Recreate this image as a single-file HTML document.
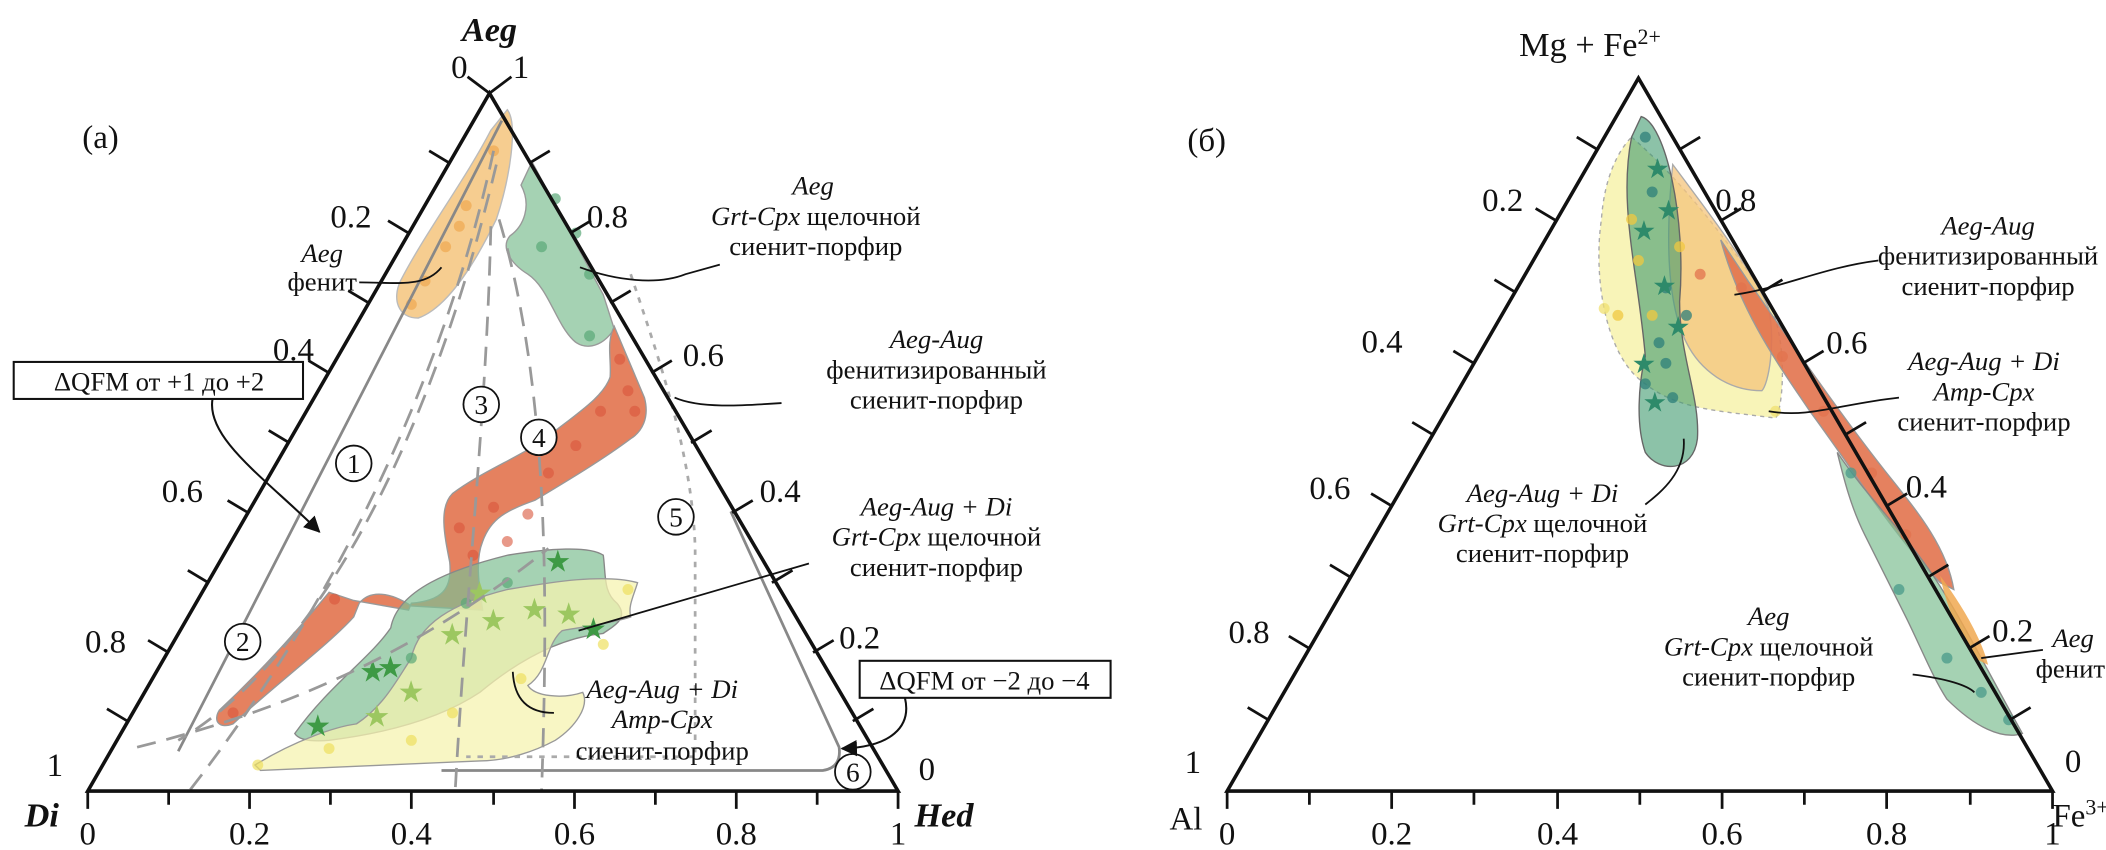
<!DOCTYPE html>
<html><head><meta charset="utf-8"><style>
html,body{margin:0;padding:0;background:#fff;overflow:hidden}
svg{display:block}
text{font-family:"Liberation Serif",serif;fill:#111}
.t{font-size:24px}
.l{font-size:19.5px}
.i{font-style:italic}
</style></head><body>
<svg width="2106" height="850" viewBox="0 0 1536 620" preserveAspectRatio="none" xmlns="http://www.w3.org/2000/svg">
<defs>
<marker id="ah" markerWidth="12" markerHeight="12" refX="11" refY="6" orient="auto" markerUnits="userSpaceOnUse"><path d="M0,0 L12,6 L0,12 z" fill="#111"/></marker>
</defs>

<!-- ===== LEFT PANEL ===== -->
<path d="M370,80 C378,90 372,130 362,160 C345,195 325,225 305,232 C290,232 286,218 292,205 C310,170 340,130 358,95 Z" fill="#f4c47c" fill-opacity="0.85" stroke="#bbb" stroke-width="1"/>
<path d="M388,118 L440,215 L448,240 C438,255 425,255 418,248 C405,235 400,210 385,200 C372,192 365,180 372,172 C382,165 388,150 380,135 Z" fill="#8fc7a0" fill-opacity="0.8" stroke="#999" stroke-width="1"/>
<path d="M448,238 L470,290 C474,305 468,315 460,320 C440,335 415,350 390,365 C370,372 358,378 352,395 C346,410 350,430 352,445 L300,442 C285,432 270,430 262,440 L258,450 C240,470 200,500 170,528 C160,532 155,526 160,518 C190,490 215,462 240,432 L258,438 L298,445 L300,440 C322,438 330,430 328,410 C324,390 320,370 330,360 C350,345 375,335 395,322 C420,302 440,290 445,275 C446,262 442,250 448,238 Z" fill="#e2734e" fill-opacity="0.9" stroke="#999" stroke-width="1"/>
<path d="M215,535 C240,500 270,480 285,458 C290,430 330,415 370,405 C400,400 430,398 440,405 C442,420 440,432 450,440 C460,452 445,458 440,462 C410,465 380,480 350,505 C320,525 280,535 240,540 C228,541 218,540 215,535 Z" fill="#7fbf93" fill-opacity="0.7" stroke="#888" stroke-width="1"/>
<path d="M186,558 C215,540 245,530 260,528 C280,515 290,495 300,480 C305,455 330,440 370,430 C400,425 440,418 465,425 C462,435 458,442 460,450 C445,455 420,458 410,460 C398,470 400,490 385,500 C390,508 410,510 425,505 C430,515 420,530 405,540 C390,548 370,555 350,555 C300,557 240,560 190,562 Z" fill="#f6f3b0" fill-opacity="0.75" stroke="#999" stroke-width="1"/>
<g fill="#d8553a" fill-opacity="0.6">
<circle cx="452" cy="262" r="4"/><circle cx="458" cy="285" r="4"/><circle cx="463" cy="300" r="4"/><circle cx="438" cy="300" r="4"/><circle cx="420" cy="325" r="4"/><circle cx="400" cy="345" r="4"/><circle cx="385" cy="375" r="4"/><circle cx="360" cy="370" r="4"/><circle cx="335" cy="385" r="4"/><circle cx="345" cy="405" r="4"/><circle cx="244" cy="437" r="4"/><circle cx="170" cy="520" r="4"/><circle cx="370" cy="395" r="4"/></g>
<g fill="#f0a850" fill-opacity="0.7"><circle cx="340" cy="150" r="4"/><circle cx="325" cy="180" r="4"/><circle cx="310" cy="205" r="4"/><circle cx="360" cy="110" r="4"/><circle cx="300" cy="222" r="4"/><circle cx="335" cy="165" r="4"/></g>
<g fill="#5aa878" fill-opacity="0.7"><circle cx="405" cy="145" r="4"/><circle cx="420" cy="170" r="4"/><circle cx="430" cy="200" r="4"/><circle cx="395" cy="180" r="4"/><circle cx="340" cy="440" r="4"/><circle cx="370" cy="425" r="4"/><circle cx="300" cy="480" r="4"/><circle cx="430" cy="245" r="4"/></g>
<g font-size="22" style="font-family:'DejaVu Sans'">
<text x="397" y="417" style="fill:#3e9a45">★</text><text x="262" y="497" style="fill:#3e9a45">★</text><text x="275" y="494" style="fill:#3e9a45">★</text><text x="222" y="537" style="fill:#3e9a45">★</text><text x="423" y="466" style="fill:#3e9a45">★</text><text x="290" y="512" style="fill:#9cc760">★</text><text x="320" y="470" style="fill:#9cc760">★</text><text x="350" y="460" style="fill:#9cc760">★</text><text x="380" y="452" style="fill:#9cc760">★</text><text x="405" y="455" style="fill:#9cc760">★</text><text x="265" y="530" style="fill:#9cc760">★</text><text x="340" y="440" style="fill:#9cc760">★</text></g>
<g fill="#eee060" fill-opacity="0.7"><circle cx="188" cy="558" r="4"/><circle cx="240" cy="546" r="4"/><circle cx="300" cy="540" r="4"/><circle cx="330" cy="520" r="4"/><circle cx="380" cy="495" r="4"/><circle cx="440" cy="470" r="4"/><circle cx="458" cy="430" r="4"/></g>

<g fill="none" stroke="#888" stroke-width="2">
<path d="M366,88 L130,548"/>
<path d="M533,373 L612,545 Q614,560 600,562 L322,562"/>
</g>
<g fill="none" stroke="#999" stroke-width="2" stroke-dasharray="14,8">
<path d="M360,110 C330,250 260,420 138,577"/>
<path d="M362,120 C300,380 200,500 130,540"/>
<path d="M358,165 C355,300 340,430 332,577"/>
<path d="M364,160 C400,280 400,430 395,577"/>
<path d="M100,545 C200,520 300,480 400,400"/>
</g>
<path d="M460,200 C480,260 505,330 507,400 L507,552 L340,552" fill="none" stroke="#aaa" stroke-width="2" stroke-dasharray="4,5"/>

<path d="M357,68 L64,577 L655,577 Z" fill="none" stroke="#111" stroke-width="2.6"/>
<g stroke="#111" stroke-width="2">
<line x1="357" y1="68" x2="341" y2="56"/><line x1="357" y1="68" x2="373" y2="56"/>
<line x1="328" y1="119" x2="313" y2="110"/><line x1="298" y1="170" x2="283" y2="161"/><line x1="269" y1="221" x2="254" y2="212"/><line x1="240" y1="272" x2="225" y2="263"/><line x1="211" y1="323" x2="196" y2="314"/><line x1="181" y1="374" x2="166" y2="365"/><line x1="152" y1="425" x2="137" y2="416"/><line x1="123" y1="476" x2="108" y2="467"/><line x1="93" y1="526" x2="78" y2="517"/>
<line x1="386" y1="119" x2="401" y2="110"/><line x1="416" y1="170" x2="431" y2="161"/><line x1="445" y1="221" x2="460" y2="212"/><line x1="475" y1="272" x2="490" y2="263"/><line x1="504" y1="323" x2="519" y2="314"/><line x1="534" y1="374" x2="549" y2="365"/><line x1="563" y1="425" x2="578" y2="416"/><line x1="593" y1="476" x2="608" y2="467"/><line x1="622" y1="526" x2="637" y2="517"/>
<line x1="64" y1="577" x2="64" y2="590"/><line x1="123" y1="577" x2="123" y2="587"/><line x1="182" y1="577" x2="182" y2="590"/><line x1="241" y1="577" x2="241" y2="587"/><line x1="300" y1="577" x2="300" y2="590"/><line x1="360" y1="577" x2="360" y2="587"/><line x1="419" y1="577" x2="419" y2="590"/><line x1="478" y1="577" x2="478" y2="587"/><line x1="537" y1="577" x2="537" y2="590"/><line x1="596" y1="577" x2="596" y2="587"/><line x1="655" y1="577" x2="655" y2="590"/>
</g>
<text x="357" y="30" class="i" font-weight="bold" text-anchor="middle" font-size="25">Aeg</text>
<text x="329" y="57" class="t">0</text><text x="374" y="57" class="t">1</text>
<text x="60" y="108" class="t">(а)</text>
<text x="241" y="166" class="t">0.2</text><text x="199" y="263" class="t">0.4</text><text x="118" y="366" class="t">0.6</text><text x="62" y="476" class="t">0.8</text><text x="34" y="566" class="t">1</text>
<text x="18" y="603" class="i" font-weight="bold" font-size="25">Di</text>
<text x="667" y="603" class="i" font-weight="bold" font-size="25">Hed</text>
<g class="t" text-anchor="middle"><text x="64" y="616">0</text><text x="182" y="616">0.2</text><text x="300" y="616">0.4</text><text x="419" y="616">0.6</text><text x="537" y="616">0.8</text><text x="655" y="616">1</text></g>
<text x="428" y="166" class="t">0.8</text><text x="498" y="267" class="t">0.6</text><text x="554" y="366" class="t">0.4</text><text x="612" y="473" class="t">0.2</text><text x="670" y="569" class="t">0</text>

<g fill="#fff" stroke="#111" stroke-width="1.3">
<circle cx="258" cy="338" r="13"/><circle cx="177" cy="468" r="13"/><circle cx="351" cy="295" r="13"/><circle cx="393" cy="319" r="13"/><circle cx="493" cy="377" r="13"/><circle cx="622" cy="563" r="13"/></g>
<g font-size="20" text-anchor="middle"><text x="258" y="345">1</text><text x="177" y="475">2</text><text x="351" y="302">3</text><text x="393" y="326">4</text><text x="493" y="384">5</text><text x="622" y="570">6</text></g>

<rect x="10" y="264" width="211" height="27" fill="#fff" stroke="#111" stroke-width="1.5"/>
<text x="116" y="285" class="l" text-anchor="middle">ΔQFM от +1 до +2</text>
<path d="M155,291 C150,320 195,350 233,388" fill="none" stroke="#111" stroke-width="1.5" marker-end="url(#ah)"/>
<rect x="627" y="482" width="183" height="27" fill="#fff" stroke="#111" stroke-width="1.5"/>
<text x="718" y="503" class="l" text-anchor="middle">ΔQFM от −2 до −4</text>
<path d="M660,509 C665,530 650,545 614,546" fill="none" stroke="#111" stroke-width="1.5" marker-end="url(#ah)"/>

<g fill="none" stroke="#111" stroke-width="1.3">
<path d="M322,195 C310,210 290,206 262,206"/>
<path d="M423,195 C450,205 480,208 500,200 L525,193"/>
<path d="M492,290 C510,298 540,296 570,294"/>
<path d="M422,460 L590,411"/>
<path d="M374,490 C375,510 385,520 404,520"/>
</g>
<g class="l" text-anchor="middle">
<text x="235" y="191" class="i">Aeg</text><text x="235" y="212">фенит</text>
<text x="593" y="142" class="i">Aeg</text><text x="595" y="164"><tspan class="i">Grt-Cpx</tspan> щелочной</text><text x="595" y="186">сиенит-порфир</text>
<text x="683" y="254" class="i">Aeg-Aug</text><text x="683" y="276">фенитизированный</text><text x="683" y="298">сиенит-порфир</text>
<text x="683" y="376" class="i">Aeg-Aug + Di</text><text x="683" y="398"><tspan class="i">Grt-Cpx</tspan> щелочной</text><text x="683" y="420">сиенит-порфир</text>
<text x="483" y="509" class="i">Aeg-Aug + Di</text><text x="483" y="531" class="i">Amp-Cpx</text><text x="483" y="554">сиенит-порфир</text>
</g>

<!-- ===== RIGHT PANEL ===== -->
<path d="M1190,100 C1225,130 1260,175 1290,220 C1305,250 1300,300 1295,305 C1260,300 1225,300 1200,280 C1170,260 1162,200 1168,160 C1170,130 1180,110 1190,100 Z" fill="#f6f0a0" fill-opacity="0.75" stroke="#aaa" stroke-width="1" stroke-dasharray="3,3"/>
<path d="M1220,120 C1250,160 1280,200 1290,225 C1295,250 1290,280 1285,285 C1260,285 1240,270 1230,250 C1215,220 1215,170 1220,120 Z" fill="#f4c47c" fill-opacity="0.75" stroke="#aaa" stroke-width="1"/>
<path d="M1197,85 C1215,90 1230,160 1225,220 C1225,260 1240,290 1238,320 C1235,345 1210,345 1200,330 C1193,310 1195,280 1200,260 C1195,200 1180,150 1190,100 Z" fill="#3f9a6e" fill-opacity="0.6" stroke="#666" stroke-width="1"/>
<path d="M1255,175 L1275,205 C1300,240 1340,300 1380,350 C1400,375 1420,400 1425,430 L1415,425 C1380,390 1350,340 1320,300 C1300,270 1270,230 1255,175 Z" fill="#e2734e" fill-opacity="0.9" stroke="#999" stroke-width="1"/>
<path d="M1340,330 C1360,360 1390,390 1410,420 C1430,450 1450,490 1475,535 C1460,540 1440,530 1420,510 C1410,495 1400,470 1390,450 C1380,430 1370,410 1360,390 C1350,370 1345,350 1340,330 Z" fill="#7fbf93" fill-opacity="0.7" stroke="#888" stroke-width="1"/>
<path d="M1415,420 C1430,440 1445,465 1450,485 L1440,480 C1430,465 1420,445 1415,420 Z" fill="#f0a850" fill-opacity="0.85"/>
<g fill-opacity="0.75">
<circle cx="1200" cy="100" r="4" fill="#2e7f7a"/><circle cx="1205" cy="140" r="4" fill="#2e7f7a"/><circle cx="1195" cy="190" r="4" fill="#f0c840"/><circle cx="1215" cy="210" r="4" fill="#2e7f7a"/><circle cx="1180" cy="230" r="4" fill="#f0c840"/><circle cx="1210" cy="250" r="4" fill="#2e7f7a"/><circle cx="1200" cy="280" r="4" fill="#2e7f7a"/><circle cx="1225" cy="180" r="4" fill="#f0c840"/><circle cx="1170" cy="225" r="4" fill="#f0e070"/><circle cx="1240" cy="200" r="4" fill="#e2734e"/><circle cx="1270" cy="210" r="4" fill="#e2734e"/><circle cx="1300" cy="260" r="4" fill="#e2734e"/><circle cx="1330" cy="300" r="4" fill="#e2734e"/><circle cx="1365" cy="345" r="4" fill="#e2734e"/><circle cx="1390" cy="390" r="4" fill="#e2734e"/><circle cx="1295" cy="300" r="4" fill="#f0e070"/><circle cx="1385" cy="430" r="4" fill="#4a9a8a"/><circle cx="1420" cy="480" r="4" fill="#4a9a8a"/><circle cx="1445" cy="505" r="4" fill="#4a9a8a"/><circle cx="1465" cy="525" r="4" fill="#4a9a8a"/><circle cx="1350" cy="345" r="4" fill="#4a9a8a"/><circle cx="1230" cy="230" r="4" fill="#2e7f7a"/><circle cx="1190" cy="160" r="4" fill="#f0c840"/><circle cx="1215" cy="265" r="4" fill="#2e7f7a"/><circle cx="1205" cy="230" r="4" fill="#f0c840"/><circle cx="1220" cy="290" r="4" fill="#2e7f7a"/></g>
<g font-size="20" style="font-family:'DejaVu Sans'">
<text x="1200" y="130" style="fill:#2e8a6a">★</text><text x="1190" y="175" style="fill:#2e8a6a">★</text><text x="1205" y="215" style="fill:#2e8a6a">★</text><text x="1215" y="245" style="fill:#2e8a6a">★</text><text x="1190" y="272" style="fill:#2e8a6a">★</text><text x="1198" y="300" style="fill:#2e8a6a">★</text><text x="1208" y="160" style="fill:#2e8a6a">★</text></g>

<path d="M1195,57 L895,577 L1497,577 Z" fill="none" stroke="#111" stroke-width="2.6"/>
<g stroke="#111" stroke-width="2">
<line x1="1165" y1="109" x2="1150" y2="100"/><line x1="1135" y1="161" x2="1120" y2="152"/><line x1="1105" y1="213" x2="1090" y2="204"/><line x1="1075" y1="265" x2="1060" y2="256"/><line x1="1045" y1="317" x2="1030" y2="308"/><line x1="1015" y1="369" x2="1000" y2="360"/><line x1="985" y1="421" x2="970" y2="412"/><line x1="955" y1="473" x2="940" y2="464"/><line x1="925" y1="525" x2="910" y2="516"/>
<line x1="1225" y1="109" x2="1240" y2="100"/><line x1="1255" y1="161" x2="1270" y2="152"/><line x1="1285" y1="213" x2="1300" y2="204"/><line x1="1315" y1="265" x2="1330" y2="256"/><line x1="1346" y1="317" x2="1361" y2="308"/><line x1="1376" y1="369" x2="1391" y2="360"/><line x1="1406" y1="421" x2="1421" y2="412"/><line x1="1436" y1="473" x2="1451" y2="464"/><line x1="1466" y1="525" x2="1481" y2="516"/>
<line x1="895" y1="577" x2="895" y2="590"/><line x1="955" y1="577" x2="955" y2="587"/><line x1="1015" y1="577" x2="1015" y2="590"/><line x1="1075" y1="577" x2="1075" y2="587"/><line x1="1136" y1="577" x2="1136" y2="590"/><line x1="1196" y1="577" x2="1196" y2="587"/><line x1="1256" y1="577" x2="1256" y2="590"/><line x1="1316" y1="577" x2="1316" y2="587"/><line x1="1376" y1="577" x2="1376" y2="590"/><line x1="1437" y1="577" x2="1437" y2="587"/><line x1="1497" y1="577" x2="1497" y2="590"/>
</g>
<text x="1108" y="41" font-size="25">Mg + Fe<tspan dy="-9" font-size="16">2+</tspan></text>
<text x="866" y="110" class="t">(б)</text>
<text x="1081" y="154" class="t">0.2</text><text x="993" y="257" class="t">0.4</text><text x="955" y="364" class="t">0.6</text><text x="896" y="469" class="t">0.8</text><text x="864" y="564" class="t">1</text>
<text x="853" y="605" class="t">Al</text>
<text x="1497" y="603" class="t">Fe<tspan dy="-9" font-size="16">3+</tspan></text>
<g class="t" text-anchor="middle"><text x="895" y="616">0</text><text x="1015" y="616">0.2</text><text x="1136" y="616">0.4</text><text x="1256" y="616">0.6</text><text x="1376" y="616">0.8</text><text x="1497" y="616">1</text></g>
<text x="1251" y="154" class="t">0.8</text><text x="1332" y="258" class="t">0.6</text><text x="1390" y="363" class="t">0.4</text><text x="1453" y="468" class="t">0.2</text><text x="1506" y="563" class="t">0</text>

<g fill="none" stroke="#111" stroke-width="1.3">
<path d="M1265,215 C1300,210 1330,195 1370,190"/>
<path d="M1290,300 C1320,305 1340,295 1385,290"/>
<path d="M1228,320 C1230,345 1210,360 1200,368"/>
<path d="M1395,492 C1420,495 1435,500 1440,505"/>
<path d="M1445,480 L1490,474"/>
</g>
<g class="l" text-anchor="middle">
<text x="1450" y="171" class="i">Aeg-Aug</text><text x="1450" y="193">фенитизированный</text><text x="1450" y="215">сиенит-порфир</text>
<text x="1447" y="270" class="i">Aeg-Aug + Di</text><text x="1447" y="292" class="i">Amp-Cpx</text><text x="1447" y="314">сиенит-порфир</text>
<text x="1125" y="366" class="i">Aeg-Aug + Di</text><text x="1125" y="388"><tspan class="i">Grt-Cpx</tspan> щелочной</text><text x="1125" y="410">сиенит-порфир</text>
<text x="1290" y="456" class="i">Aeg</text><text x="1290" y="478"><tspan class="i">Grt-Cpx</tspan> щелочной</text><text x="1290" y="500">сиенит-порфир</text>
<text x="1512" y="472" class="i">Aeg</text><text x="1510" y="494">фенит</text>
</g>
</svg>
</body></html>
